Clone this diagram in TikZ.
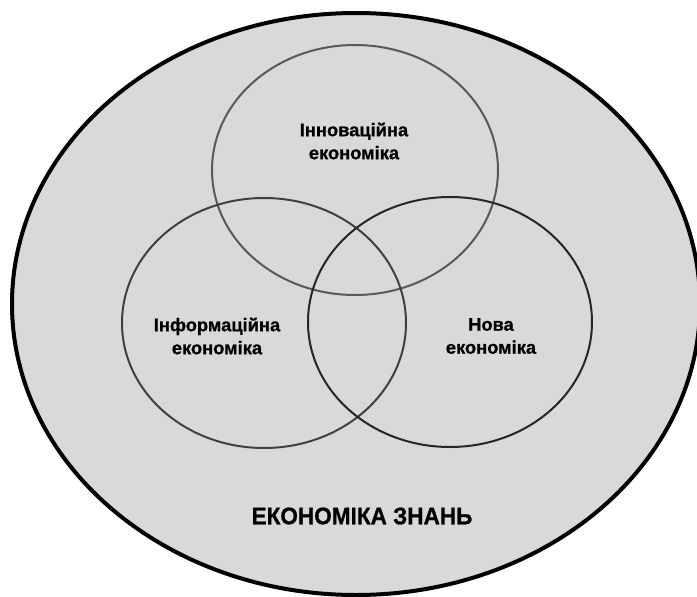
\documentclass[tikz,border=0pt]{standalone}
\usepackage{fontspec}
\setmainfont{Liberation Sans}[BoldFeatures={FakeBold=0.8}]
\newfontfamily\narrowsans{Liberation Sans}[FakeStretch=0.94, BoldFeatures={FakeBold=0.8}]
\definecolor{bgfill}{HTML}{D9D9D9}
\definecolor{ringA}{HTML}{595959}
\definecolor{ringB}{HTML}{404040}
\definecolor{ringC}{HTML}{262626}
\tikzset{
  lbl/.style={font=\fontsize{18.3}{23}\selectfont\bfseries, align=center, inner sep=0pt},
  ring/.style={line width=2pt}
}

\begin{document}
\begin{tikzpicture}[x=1pt,y=-1pt]
  \useasboundingbox (0,0) rectangle (697,597);
  \draw[fill=bgfill, line width=4pt] (356,304) ellipse (344pt and 291pt);
  \draw[ring, draw=ringA] (355,170) ellipse (143pt and 125pt);
  \draw[ring, draw=ringB] (264,323) ellipse (142pt and 125pt);
  \draw[ring, draw=ringC] (450,322) ellipse (142pt and 125pt);
    \node[lbl] (inn) at (354,141) {Інноваційна\\економіка};
    \node[lbl] (inf) at (217,336) {Інформаційна\\економіка};
    \node[lbl] (nova) at (491,336) {Нова\\економіка};
    \node[lbl, font=\fontsize{24}{28}\narrowsans\bfseries] (zn) at (362,516) {ЕКОНОМІКА ЗНАНЬ};
\end{tikzpicture}
\end{document}
